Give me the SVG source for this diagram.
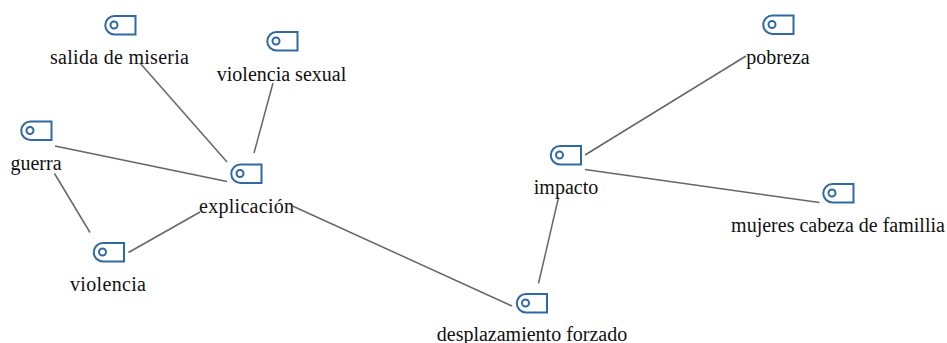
<svg xmlns="http://www.w3.org/2000/svg" width="947" height="343" viewBox="0 0 947 343">
<defs>
<g id="tag"><path class="tag" d="M10 1H31V19.500H10A9.250 9.250 0 0 1 10 1Z"/><circle class="tag" cx="9.500" cy="10" r="3.500"/></g>
</defs>
<style>
.tag{fill:#fff;stroke:#2f69a3;stroke-width:2}
.lab{font-family:"Liberation Serif","Times New Roman",serif;font-size:20px;fill:#111;text-anchor:middle}
.c{stroke:#666;stroke-width:1.500;fill:none}
</style>
<rect width="947" height="343" fill="#fff"/>
<g id="connectors">
<line class="c" x1="140" y1="63" x2="227" y2="162"/>
<line class="c" x1="273" y1="83" x2="254" y2="153"/>
<line class="c" x1="55" y1="146" x2="227" y2="181.500"/>
<line class="c" x1="54.500" y1="173.500" x2="90" y2="232.500"/>
<line class="c" x1="128.500" y1="252.500" x2="200" y2="212"/>
<line class="c" x1="292.500" y1="206" x2="512" y2="306"/>
<line class="c" x1="538.500" y1="283.500" x2="558.500" y2="197.500"/>
<line class="c" x1="585" y1="155" x2="746" y2="56"/>
<line class="c" x1="585" y1="169.500" x2="819.500" y2="202.500"/>
</g>
<g id="n-salida"><use href="#tag" x="104.500" y="15"/><text class="lab" x="119.500" y="63.500" textLength="139">salida de miseria</text></g>
<g id="n-violencia-sexual"><use href="#tag" x="266.500" y="31"/><text class="lab" x="281.500" y="80.500">violencia sexual</text></g>
<g id="n-guerra"><use href="#tag" x="20.500" y="120.500"/><text class="lab" x="36" y="169.500">guerra</text></g>
<g id="n-explicacion"><use href="#tag" x="230.500" y="163.500"/><text class="lab" x="246.500" y="212.500" textLength="95">explicación</text></g>
<g id="n-violencia"><use href="#tag" x="93" y="242"/><text class="lab" x="108" y="290.500" textLength="76">violencia</text></g>
<g id="n-impacto"><use href="#tag" x="550" y="145"/><text class="lab" x="566" y="193.500">impacto</text></g>
<g id="n-desplazamiento"><use href="#tag" x="516" y="293"/><text class="lab" x="532" y="340.500">desplazamiento forzado</text></g>
<g id="n-pobreza"><use href="#tag" x="762.500" y="14.500"/><text class="lab" x="778" y="63.500">pobreza</text></g>
<g id="n-mujeres"><use href="#tag" x="822.500" y="183"/><text class="lab" x="838" y="231.500">mujeres cabeza de famillia</text></g>
</svg>
